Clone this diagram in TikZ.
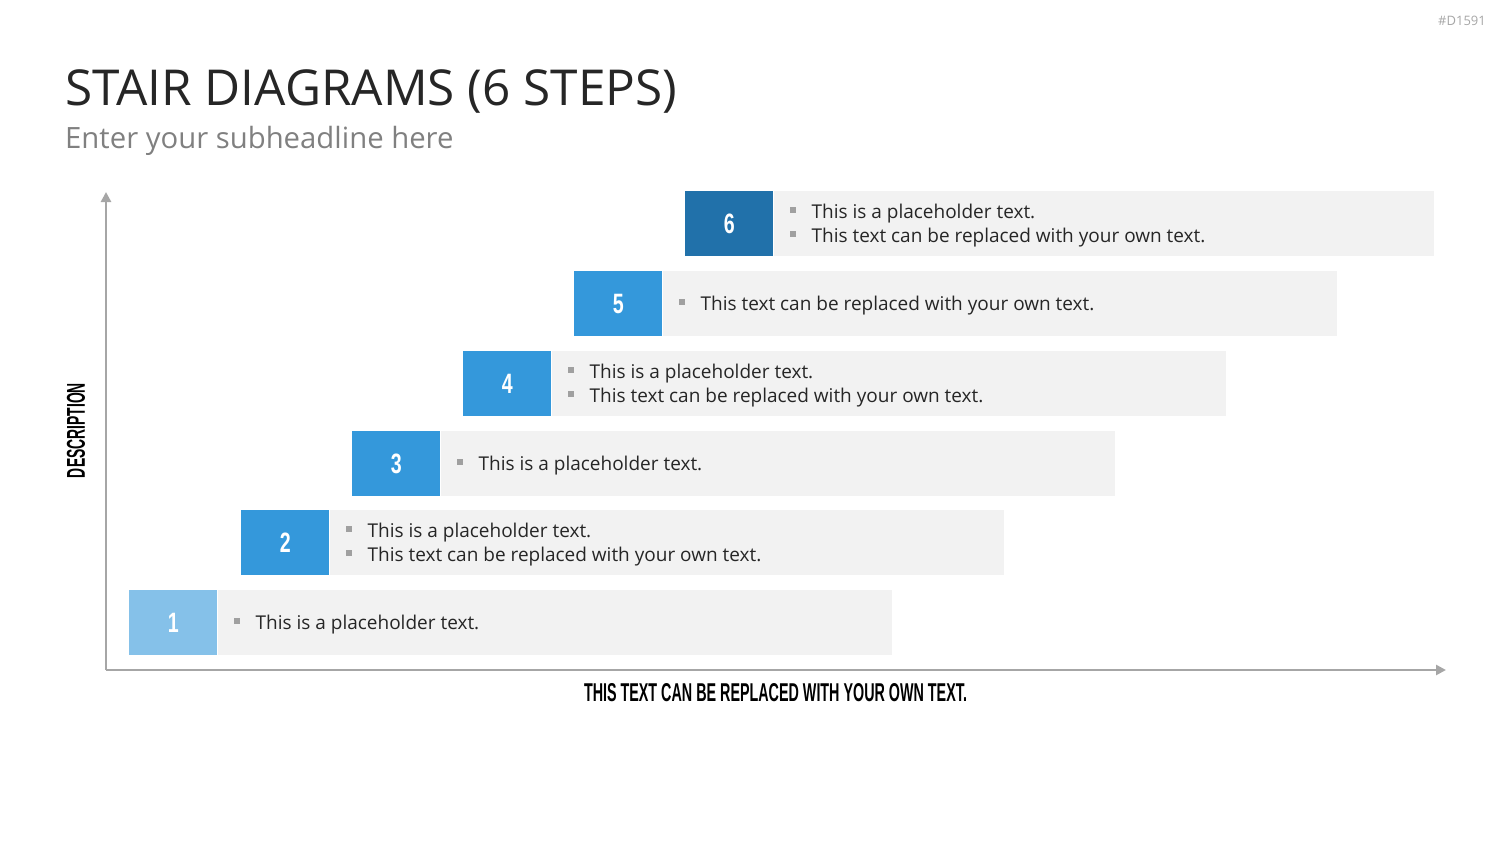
\documentclass[tikz,border=0pt]{standalone}
\usepackage{fontspec}
\setmainfont{Open Sans}
\newfontfamily\condfont{Liberation Sans}
\usepackage{graphicx}
\usetikzlibrary{arrows.meta,positioning}
\definecolor{stepA}{RGB}{133,193,233}
\definecolor{stepB}{RGB}{52,152,219}
\definecolor{stepC}{RGB}{33,113,170}
\definecolor{barbg}{RGB}{242,242,242}
\definecolor{axisgray}{RGB}{166,166,166}
\definecolor{bulgray}{RGB}{160,160,160}
\definecolor{textdark}{RGB}{38,38,38}
\definecolor{subgray}{RGB}{128,128,128}
\newcommand{\bul}{\makebox[22pt][l]{\raisebox{5pt}{\textcolor{bulgray}{\rule{6pt}{6pt}}}}}
\newcommand{\stepnum}[1]{\scalebox{0.7}[1]{\condfont\bfseries\fontsize{28}{28}\selectfont #1}}
\newcommand{\axislabel}[2]{\resizebox{#1}{18pt}{\condfont\bfseries #2}}

\begin{document}
\begin{tikzpicture}[
  x=1pt, y=-1pt,
  num/.style={minimum width=88pt, minimum height=65pt, inner sep=0pt, text=white, anchor=north west},
  bar/.style={fill=barbg, minimum width=674pt, minimum height=65pt, inner sep=0pt},
  txt/.style={anchor=west, inner sep=0pt, align=left, text=textdark, font=\fontsize{19}{24}\selectfont},
  axis/.style={draw=axisgray, line width=2.5pt, -{Triangle[length=10pt,width=10pt]}},
]
\useasboundingbox (0,0) rectangle (1500,844);

% HEADER
\node[anchor=base west, inner sep=0pt, text=textdark, font=\fontsize{49.5}{50}\selectfont] (title) at (65,105) {STAIR DIAGRAMS (6 STEPS)};
\node[anchor=base west, inner sep=0pt, text=subgray, font=\fontsize{29.3}{30}\selectfont] (sub) at (65,148) {Enter your subheadline here};
\node[anchor=base east, inner sep=0pt, text=axisgray, font=\fontsize{13}{13}\selectfont] (tag) at (1486,25) {\#D1591};

% AXES
\coordinate (origin) at (106,670);
\coordinate (ytop) at (106,192);
\coordinate (xend) at (1446,670);
\draw[axis] (origin) -- (ytop);
\draw[axis] (origin) -- (xend);
\node[inner sep=0pt, rotate=90] (ylab) at (76,430.5) {\axislabel{95pt}{DESCRIPTION}};
\node[anchor=base, inner sep=0pt] (xlab) at (775.5,701) {\axislabel{383pt}{THIS TEXT CAN BE REPLACED WITH YOUR OWN TEXT.}};

% STEP 1
\node[num, fill=stepA] (n1) at (129,590) {\stepnum{1}};
\node[bar, right=0pt of n1] (b1) {};
\node[txt] (t1) at ([xshift=16pt,yshift=-1.5pt]b1.west) {\bul This is a placeholder text.};

% STEP 2
\node[num, fill=stepB] (n2) at (241,510) {\stepnum{2}};
\node[bar, right=0pt of n2] (b2) {};
\node[txt] (t2) at ([xshift=16pt,yshift=-1.5pt]b2.west) {\bul This is a placeholder text.\\ \bul This text can be replaced with your own text.};

% STEP 3
\node[num, fill=stepB] (n3) at (352,431) {\stepnum{3}};
\node[bar, right=0pt of n3] (b3) {};
\node[txt] (t3) at ([xshift=16pt,yshift=-1.5pt]b3.west) {\bul This is a placeholder text.};

% STEP 4
\node[num, fill=stepB] (n4) at (463,351) {\stepnum{4}};
\node[bar, right=0pt of n4] (b4) {};
\node[txt] (t4) at ([xshift=16pt,yshift=-1.5pt]b4.west) {\bul This is a placeholder text.\\ \bul This text can be replaced with your own text.};

% STEP 5
\node[num, fill=stepB] (n5) at (574,271) {\stepnum{5}};
\node[bar, right=0pt of n5] (b5) {};
\node[txt] (t5) at ([xshift=16pt,yshift=-1.5pt]b5.west) {\bul This text can be replaced with your own text.};

% STEP 6
\node[num, fill=stepC] (n6) at (685,191) {\stepnum{6}};
\node[bar, minimum width=660pt, right=0pt of n6] (b6) {};
\node[txt] (t6) at ([xshift=16pt,yshift=-1.5pt]b6.west) {\bul This is a placeholder text.\\ \bul This text can be replaced with your own text.};
\end{tikzpicture}
\end{document}
